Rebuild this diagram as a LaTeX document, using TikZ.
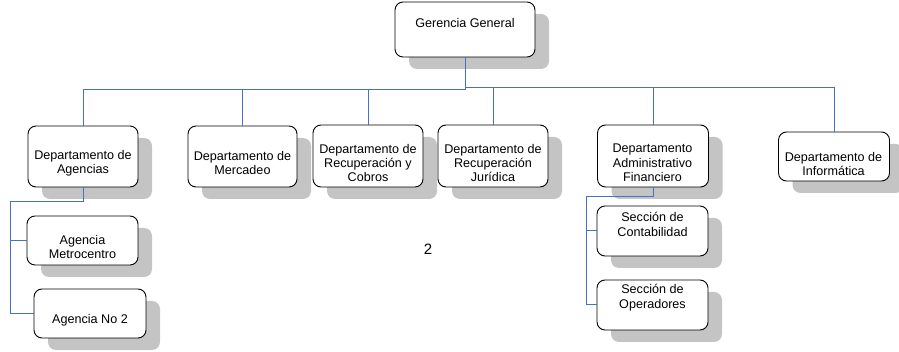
\documentclass[tikz,border=0pt]{standalone}
\usepackage{fontspec}
\setmainfont{Liberation Sans}
\usetikzlibrary{shadows,calc}
\definecolor{linkblue}{RGB}{70,114,196}
\definecolor{shadowgray}{RGB}{196,196,196}
\tikzset{
  orgbox/.style={draw=black, line width=0.9pt, rounded corners=8pt, fill=white, inner sep=0pt,
    general shadow={fill=shadowgray, shadow xshift=14pt, shadow yshift=-12pt, rounded corners=4pt}},
  orgtext/.style={align=center, inner sep=0pt, font=\fontsize{12.6}{14.4}\selectfont},
  conn/.style={draw=linkblue, line width=1pt},
}
\begin{document}
\begin{tikzpicture}[x=1pt,y=-1pt]
\useasboundingbox (0,0) rectangle (899,352);
% boxes
\node[orgbox, minimum width=140pt, minimum height=55pt] (gg) at (465,29.5) {};
\node[orgtext] (ggt) at (465,23) {Gerencia General};

\node[orgbox, minimum width=110pt, minimum height=61pt] (ag) at (83,156.5) {};
\node[orgtext] (agt) at (83,163) {Departamento de\\Agencias};

\node[orgbox, minimum width=109pt, minimum height=61pt] (me) at (242.5,156.5) {};
\node[orgtext] (met) at (242.5,163) {Departamento de\\Mercadeo};

\node[orgbox, minimum width=110pt, minimum height=62pt] (rc) at (368,156) {};
\node[orgtext] (rct) at (368,163) {Departamento de\\Recuperación y\\Cobros};

\node[orgbox, minimum width=110pt, minimum height=62pt] (rj) at (493,156) {};
\node[orgtext] (rjt) at (493,163) {Departamento de\\Recuperación\\Jurídica};

\node[orgbox, minimum width=111pt, minimum height=62pt] (af) at (653,156) {};
\node[orgtext] (aft) at (652.5,163) {Departamento\\Administrativo\\Financiero};

\node[orgbox, minimum width=111pt, minimum height=49pt] (inf) at (834,156.5) {};
\node[orgtext] (inft) at (833.5,164) {Departamento de\\Informática};

\node[orgbox, minimum width=111pt, minimum height=49pt] (am) at (82.5,240.5) {};
\node[orgtext] (amt) at (82.5,247) {Agencia\\Metrocentro};

\node[orgbox, minimum width=112pt, minimum height=49pt] (a2) at (90,313.5) {};
\node[orgtext] (a2t) at (90,320.5) {Agencia No 2};

\node[orgbox, minimum width=111pt, minimum height=50pt] (sc) at (652.5,231) {};
\node[orgtext] (sct) at (652.5,224.5) {Sección de\\Contabilidad};

\node[orgbox, minimum width=111pt, minimum height=50pt] (so) at (652.5,305) {};
\node[orgtext] (sot) at (652.5,297.5) {Sección de\\Operadores};

\node[inner sep=0pt, font=\fontsize{15}{18}\selectfont] (two) at (428,249) {2};

% connectors from top
\draw[conn] (gg.south) -- ++(0,32) -| (ag.north);
\draw[conn] (gg.south) -- ++(0,32) -| (me.north);
\draw[conn] (gg.south) -- ++(0,32) -| (rc.north);
\draw[conn] (gg.south) -- ++(0,30) -| (rj.north);
\draw[conn] (gg.south) -- ++(0,30) -| (af.north);
\draw[conn] (gg.south) -- ++(0,30) -| (inf.north);

% agencias
\coordinate (aL) at (10,202);
\draw[conn] (ag.south) |- (aL) -- (aL |- a2.west) -- (a2.west);
\draw[conn] (aL |- am.west) -- (am.west);

% administrativo
\coordinate (sL) at (586,197);
\draw[conn] (af.south) |- (sL) -- (sL |- so.west) -- (so.west);
\draw[conn] (sL |- sc.west) -- (sc.west);
\end{tikzpicture}
\end{document}
